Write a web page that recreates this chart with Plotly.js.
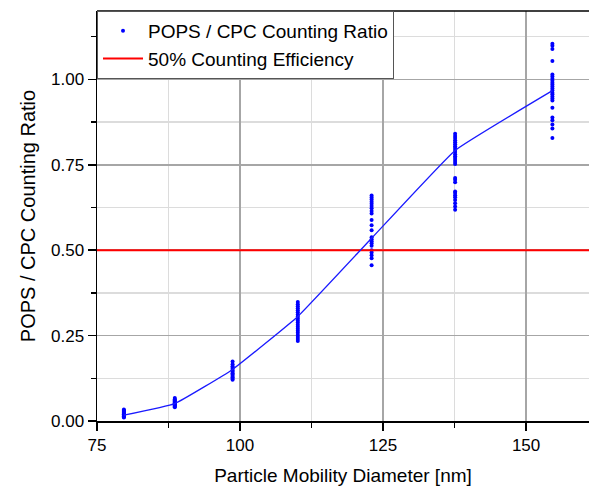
<!DOCTYPE html>
<html>
<head>
<meta charset="utf-8">
<script src="https://cdn.plot.ly/plotly-3.0.1.min.js"></script>
<style>html,body{margin:0;padding:0;background:#fff;}#chart{width:589px;height:487px;}</style>
</head>
<body>
<div id="chart"></div>
<script>
// Particle mobility diameters [nm] of each measurement column
const diameters = [79.7, 88.6, 98.7, 110.1, 123.0, 137.6, 154.6];
// Mean counting ratio per diameter (fitted curve)
const meanRatio = [0.017, 0.051, 0.151, 0.306, 0.535, 0.792, 0.967];
// Individual POPS / CPC ratios per diameter
const ratios80 = [0.034, 0.031, 0.028, 0.025, 0.022, 0.020, 0.018, 0.016, 0.014, 0.012, 0.010];
const ratios89 = [0.067, 0.064, 0.061, 0.058, 0.055, 0.052, 0.050, 0.048, 0.046, 0.043, 0.040];
const ratios99 = [0.174, 0.166, 0.160, 0.156, 0.152, 0.148, 0.144, 0.140, 0.136, 0.132, 0.128, 0.124, 0.121];
const ratios110 = [0.348, 0.342, 0.336, 0.330, 0.324, 0.318, 0.312, 0.306, 0.300, 0.294, 0.288, 0.282, 0.276, 0.270, 0.264, 0.258, 0.252, 0.246, 0.240, 0.234];
const ratios123 = [0.660, 0.654, 0.648, 0.642, 0.636, 0.629, 0.623, 0.615, 0.607, 0.588, 0.573, 0.558, 0.538, 0.532, 0.526, 0.520, 0.513, 0.500, 0.493, 0.485, 0.476, 0.456];
const ratios138 = [0.841, 0.834, 0.828, 0.822, 0.816, 0.810, 0.804, 0.799, 0.793, 0.787, 0.781, 0.775, 0.770, 0.764, 0.758, 0.752, 0.711, 0.706, 0.699, 0.672, 0.667, 0.661, 0.655, 0.647, 0.637, 0.628, 0.618];
const ratios155 = [1.104, 1.098, 1.089, 1.054, 1.014, 1.008, 1.002, 0.996, 0.990, 0.985, 0.979, 0.973, 0.967, 0.961, 0.956, 0.950, 0.944, 0.938, 0.917, 0.888, 0.880, 0.868, 0.856, 0.828];
// 50% counting efficiency reference
const efficiencyX = [75, 161];
const efficiencyY = [0.5, 0.5];

const columns = [ratios80, ratios89, ratios99, ratios110, ratios123, ratios138, ratios155];
const px = [], py = [];
columns.forEach((col, i) => col.forEach(v => { px.push(diameters[i]); py.push(v); }));

const fontFam = 'Arial, "Liberation Sans", sans-serif';

const traces = [
  {x: px, y: py, type: 'scatter', mode: 'markers', name: 'POPS / CPC Counting Ratio',
   marker: {color: '#0000ff', size: 4}},
  {x: efficiencyX, y: efficiencyY, type: 'scatter', mode: 'lines', name: '50% Counting Efficiency',
   line: {color: '#ff0000', width: 2}},
  {x: diameters, y: meanRatio, type: 'scatter', mode: 'lines', showlegend: false,
   line: {color: '#1a1aff', width: 1.3, shape: 'spline', smoothing: 0.3}}
];

const axisCommon = {
  showline: true, linecolor: '#000', linewidth: 1.5, mirror: false,
  ticks: 'outside', ticklen: 8, tickwidth: 1.5, tickcolor: '#000',
  showgrid: true, gridcolor: '#a6a6a6', gridwidth: 1.5,
  zeroline: false,
  tickfont: {family: fontFam, size: 17, color: '#000'}
};

const layout = {
  width: 589, height: 487,
  margin: {l: 97, r: 0, t: 11, b: 66},
  paper_bgcolor: '#fff', plot_bgcolor: '#fff',
  font: {family: fontFam, color: '#000'},
  showlegend: true,
  legend: {x: 0, y: 1, xanchor: 'left', yanchor: 'top', bgcolor: '#fff',
           bordercolor: '#555', borderwidth: 1, font: {family: fontFam, size: 19, color: '#000'},
           tracegroupgap: 0, itemwidth: 40},
  xaxis: Object.assign({}, axisCommon, {
    range: [75, 161], tick0: 75, dtick: 25,
    minor: {dtick: 12.5, ticks: 'outside', ticklen: 5, tickcolor: '#000', showgrid: true, gridcolor: '#dcdcdc', gridwidth: 1.5},
    title: {text: 'Particle Mobility Diameter [nm]', font: {family: fontFam, size: 19, color: '#000'}, standoff: 15}
  }),
  yaxis: Object.assign({}, axisCommon, {
    range: [0, 1.2], tick0: 0, dtick: 0.25, tickformat: '.2f',
    minor: {dtick: 0.125, ticks: 'outside', ticklen: 5, tickcolor: '#000', showgrid: true, gridcolor: '#dcdcdc', gridwidth: 1.5},
    title: {text: 'POPS / CPC Counting Ratio', font: {family: fontFam, size: 20, color: '#000'}, standoff: 10}
  }),
  shapes: [
    {type: 'line', xref: 'paper', yref: 'paper', x0: 0, x1: 1, y0: 1, y1: 1, line: {color: '#000', width: 1.5}}
  ]
};

Plotly.newPlot('chart', traces, layout, {displayModeBar: false, staticPlot: true});
</script>
</body>
</html>
